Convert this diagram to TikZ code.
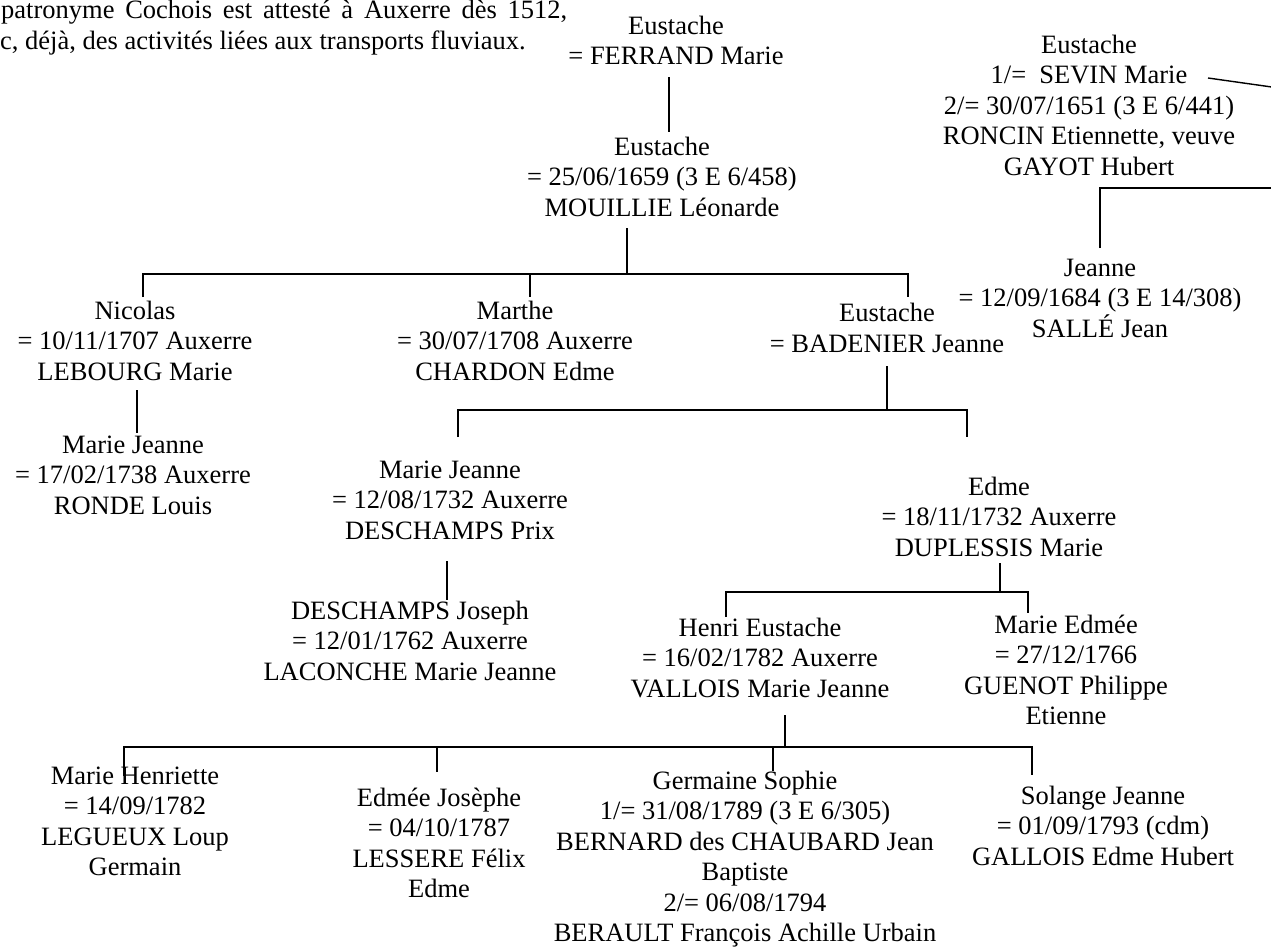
\documentclass[tikz,border=0pt]{standalone}
\usepackage{fontspec}
\setmainfont{Liberation Serif}
\begin{document}
\begin{tikzpicture}[x=1pt,y=-1pt,
  person/.style={align=center,inner sep=0pt,anchor=base,font=\fontsize{26.5}{30.5}\selectfont},
  hdr/.style={inner sep=0pt,anchor=base west,font=\fontsize{26.5}{30.5}\selectfont},
  link/.style={line width=1.4pt}]
\useasboundingbox (0,0) rectangle (1271,950);
\clip (0,0) rectangle (1271,950);

% header paragraph fragment
\node[hdr] (h1) at (1,19) {\makebox[566pt][s]{patronyme Cochois est attesté à Auxerre dès 1512,}};
\node[hdr] (h2) at (0,49) {c, déjà, des activités liées aux transports fluviaux.};

% persons (positioned at the baseline of their last line)
\node[person] (A)  at (676,64.5) {Eustache\\= FERRAND Marie};
\node[person] (B)  at (662,216) {Eustache\\= 25/06/1659 (3 E 6/458)\\MOUILLIE Léonarde};
\node[person] (S)  at (1089,175) {Eustache\\1/=\ \ SEVIN Marie\\2/= 30/07/1651 (3 E 6/441)\\RONCIN Etiennette, veuve\\GAYOT Hubert};
\node[person] (J)  at (1100,337) {Jeanne\\= 12/09/1684 (3 E 14/308)\\SALLÉ Jean};
\node[person] (N)  at (135,380) {Nicolas\\= 10/11/1707 Auxerre\\LEBOURG Marie};
\node[person] (M)  at (515,380) {Marthe\\= 30/07/1708 Auxerre\\CHARDON Edme};
\node[person] (E)  at (887,352) {Eustache\\= BADENIER Jeanne};
\node[person] (NJ) at (133,514) {Marie Jeanne\\= 17/02/1738 Auxerre\\RONDE Louis};
\node[person] (MJ) at (450,539) {Marie Jeanne\\= 12/08/1732 Auxerre\\DESCHAMPS Prix};
\node[person] (ED) at (999,556) {Edme\\= 18/11/1732 Auxerre\\DUPLESSIS Marie};
\node[person] (DJ) at (410,680) {DESCHAMPS Joseph\\= 12/01/1762 Auxerre\\LACONCHE Marie Jeanne};
\node[person] (HE) at (760,697) {Henri Eustache\\= 16/02/1782 Auxerre\\VALLOIS Marie Jeanne};
\node[person] (ME) at (1066,724.5) {Marie Edmée\\= 27/12/1766\\GUENOT Philippe\\Etienne};
\node[person] (MH) at (135,875.5) {Marie Henriette\\= 14/09/1782\\LEGUEUX Loup\\Germain};
\node[person] (EJ) at (439,897.5) {Edmée Josèphe\\= 04/10/1787\\LESSERE Félix\\Edme};
\node[person] (GS) at (745,941.5) {Germaine Sophie\\1/= 31/08/1789 (3 E 6/305)\\BERNARD des CHAUBARD Jean\\Baptiste\\2/= 06/08/1794\\BERAULT François Achille Urbain};
\node[person] (SJ) at (1103,865) {Solange Jeanne\\= 01/09/1793 (cdm)\\GALLOIS Edme Hubert};

% connector points
\coordinate (A-o) at (669,77);  \coordinate (B-i) at (669,132);
\coordinate (B-o) at (627,228); \coordinate (B-b) at (627,274);
\coordinate (bar1L) at (143,274); \coordinate (bar1R) at (908,274);
\coordinate (N-i) at (143,297); \coordinate (M-i) at (530,297); \coordinate (E-i) at (908,297);
\coordinate (M-t) at (530,274);
\coordinate (N-o) at (137,390); \coordinate (NJ-i) at (137,433);
\coordinate (E-o) at (887,366); \coordinate (E-b) at (887,410);
\coordinate (bar2L) at (458,410); \coordinate (bar2R) at (967,410);
\coordinate (MJ-i) at (458,437); \coordinate (ED-i) at (967,437);
\coordinate (MJ-o) at (447,561); \coordinate (DJ-i) at (447,600);
\coordinate (ED-o) at (1000,563); \coordinate (ED-b) at (1000,592);
\coordinate (bar3L) at (726,592); \coordinate (bar3R) at (1028,592);
\coordinate (HE-i) at (726,617); \coordinate (ME-i) at (1028,613);
\coordinate (HE-o) at (785,715); \coordinate (HE-b) at (785,747);
\coordinate (bar4L) at (124,747); \coordinate (bar4R) at (1032,747);
\coordinate (MH-i) at (124,776); \coordinate (EJ-i) at (437,772);
\coordinate (GS-t) at (773,747); \coordinate (GS-i) at (773,771);
\coordinate (SJ-i) at (1032,775); \coordinate (EJ-t) at (437,747);
\coordinate (S-o) at (1208,78); \coordinate (S-x) at (1300,91);
\coordinate (J-i) at (1100,248); \coordinate (J-c) at (1100,188); \coordinate (J-x) at (1300,188);

% connectors
\draw[link] (A-o) -- (B-i);
\draw[link] (B-o) -- (B-b);
\draw[link] (N-i) -- (bar1L) -- (bar1R) -- (E-i);
\draw[link] (M-t) -- (M-i);
\draw[link] (N-o) -- (NJ-i);
\draw[link] (E-o) -- (E-b);
\draw[link] (MJ-i) -- (bar2L) -- (bar2R) -- (ED-i);
\draw[link] (MJ-o) -- (DJ-i);
\draw[link] (ED-o) -- (ED-b);
\draw[link] (HE-i) -- (bar3L) -- (bar3R) -- (ME-i);
\draw[link] (HE-o) -- (HE-b);
\draw[link] (MH-i) -- (bar4L) -- (bar4R) -- (SJ-i);
\draw[link] (EJ-t) -- (EJ-i);
\draw[link] (GS-t) -- (GS-i);
\draw[link] (S-o) -- (S-x);
\draw[link] (J-i) -- (J-c) -- (J-x);
\end{tikzpicture}
\end{document}
